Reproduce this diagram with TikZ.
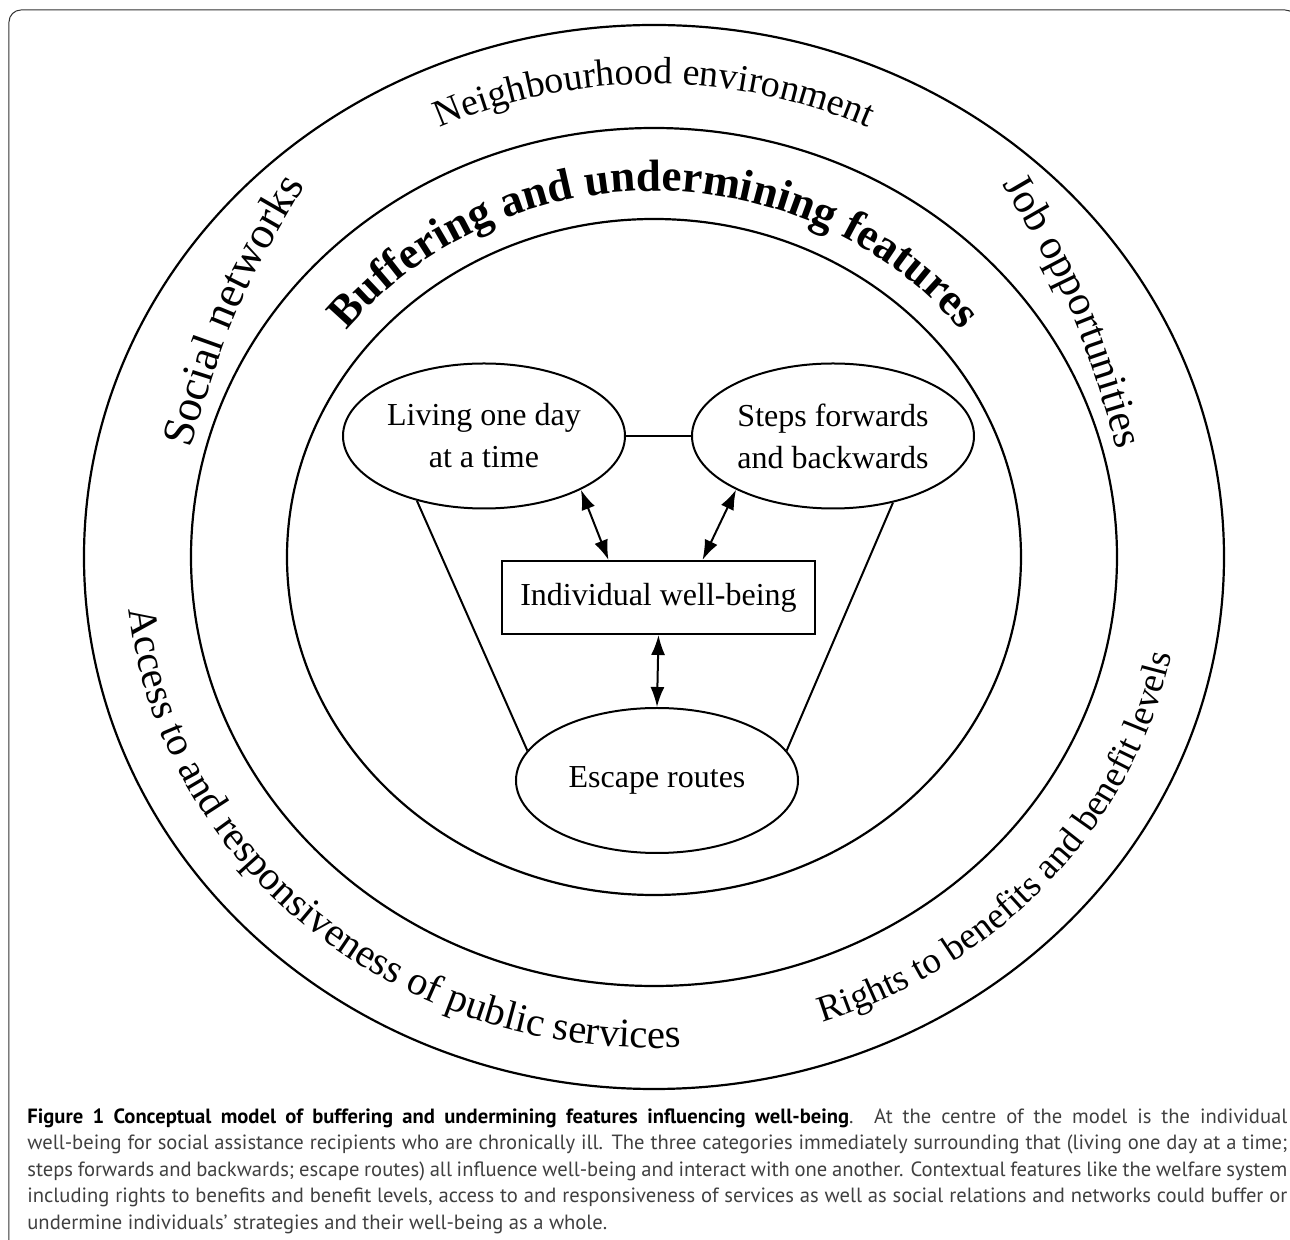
\documentclass[tikz,border=0pt]{standalone}
\usepackage{fontspec}
\setmainfont{Liberation Serif}
\newfontfamily\capfont{PT Sans}
\usetikzlibrary{shapes.geometric,decorations.text,arrows.meta}
\newcommand{\ringfont}{\fontsize{19}{23}\selectfont}
\newcommand{\bandfont}{\fontsize{22.5}{27}\selectfont\bfseries}
\newlength{\capw}
\setlength{\capw}{630pt}

\begin{document}
\begin{tikzpicture}[x=0.5pt,y=0.5pt,
  ring/.style={line width=1.1pt},
  box/.style={draw,line width=1pt,inner sep=0pt,font=\fontsize{16}{21}\selectfont},
  bubble/.style={box,ellipse,minimum width=141pt,minimum height=72.5pt,align=center},
  link/.style={line width=1pt},
  >={Latex[length=10pt,width=7pt]}]
\clip (-654,557) rectangle (636,-683);
\draw [line width=0.5pt, black!80, rounded corners=6pt] (-645,-720) -- (-645,547) -- (643,547) -- (643,-720);

\draw [ring] (0,0) ellipse [x radius=570, y radius=532];
\draw [ring] (0,0) ellipse [x radius=463, y radius=429];
\draw [ring] (0,0) ellipse [x radius=367, y radius=338];

\path [decorate, decoration={text along path, text align=center, text={|\ringfont|Neighbourhood environment}}]
  (160:508 and 473) arc [start angle=160, end angle=20, x radius=508, y radius=473];
\path [decorate, decoration={text along path, text align=center, text={|\fontsize{22.5}{26}\selectfont|Social networks}}]
  (-469,89) .. controls (-422,247) .. (-339,389);
\path [decorate, decoration={text along path, text align=center, text={|\fontsize{21}{25}\selectfont|Job opportunities}}]
  (339,389) .. controls (422,247) .. (469,89);
\path [decorate, decoration={text along path, text align=center, text={|\fontsize{20.3}{24}\selectfont|Access to and responsiveness of public services}}]
  (169:528 and 491) arc [start angle=169, end angle=289, x radius=528, y radius=491];
\path [decorate, decoration={text along path, text align=center, text={|\fontsize{18.5}{22}\selectfont|Rights to benefits and benefit levels}}]
  (262:528 and 491) arc [start angle=262, end angle=377, x radius=528, y radius=491];
\path [decorate, decoration={text along path, text align=center, text={|\bandfont|Buffering and undermining features}}]
  (170:391 and 366) arc [start angle=170, end angle=10, x radius=391, y radius=366];

\node [bubble] (liv) at (-170,121) {Living one day\\at a time};
\node [bubble] (stp) at (179,121) {Steps forwards\\and backwards};
\node [box, minimum width=156.5pt, minimum height=36.5pt] (ind) at (4.5,-40.5) {Individual well-being};
\node [bubble] (esc) at (3,-223.5) {Escape routes};

\draw [link] (liv.east) -- (stp.west);
\draw [link] (liv.224) -- (esc.167);
\draw [link] (stp.312) -- (esc.13);
\draw [link, <->] (liv.331) -- ([xshift=-25pt]ind.north);
\draw [link, <->] (stp.209) -- ([xshift=22pt]ind.north);
\draw [link, <->] (ind.south) -- (esc.north);

\node [anchor=north west, inner sep=0pt, align=left, text=black!75,
  font=\capfont\fontsize{10.3}{13.25}\selectfont] (cap) at (-627,-551) {%
\makebox[\capw][s]{\textcolor{black}{\bfseries Figure 1 Conceptual model of buffering and undermining features influencing well-being}. At the centre of the model is the individual}\\
\makebox[\capw][s]{well-being for social assistance recipients who are chronically ill. The three categories immediately surrounding that (living one day at a time;}\\
\makebox[\capw][s]{steps forwards and backwards; escape routes) all influence well-being and interact with one another. Contextual features like the welfare system}\\
\makebox[\capw][s]{including rights to benefits and benefit levels, access to and responsiveness of services as well as social relations and networks could buffer or}\\
undermine individuals’ strategies and their well-being as a whole.};
\end{tikzpicture}
\end{document}
